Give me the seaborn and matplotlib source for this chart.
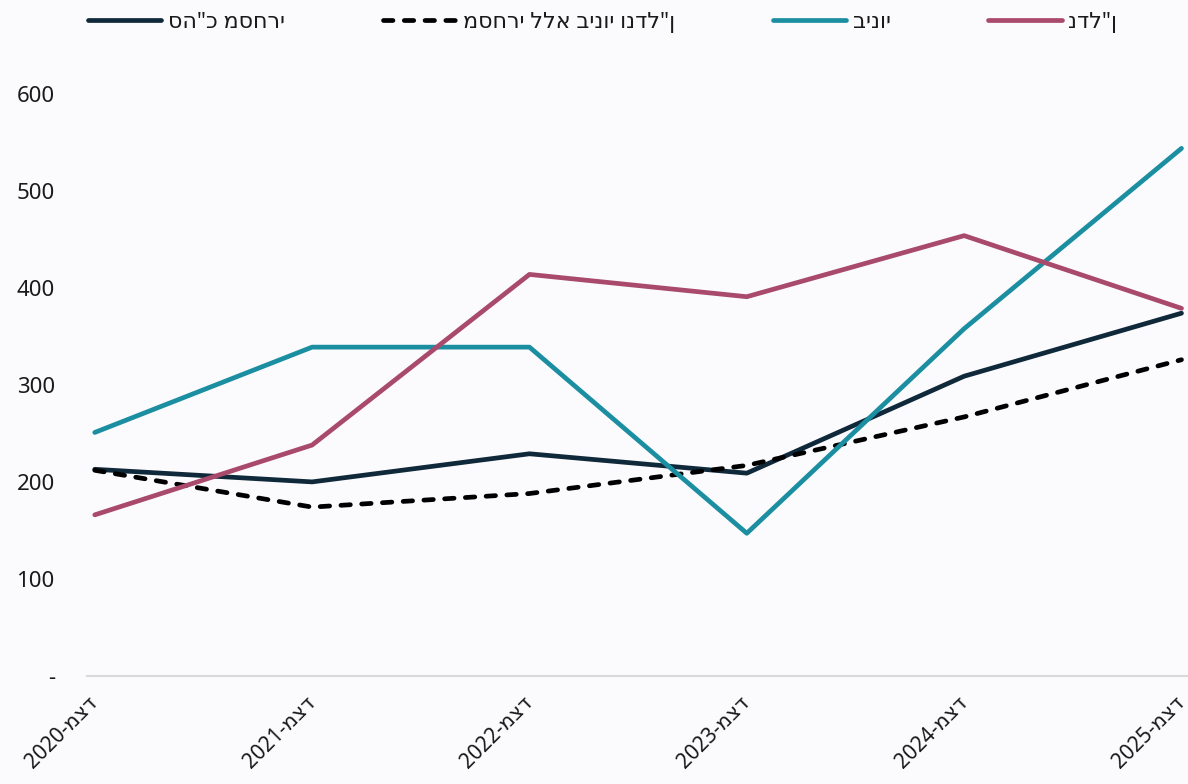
import pandas as pd
import matplotlib.pyplot as plt
import seaborn as sns

# values
months = ["2020-מצד", "2021-מצד", "2022-מצד", "2023-מצד", "2024-מצד", "2025-מצד"]
total_commercial = [213, 200, 229, 209, 309, 374]
excl_constr_realestate = [212, 174, 188, 217, 267, 326]
construction = [251, 339, 339, 147, 358, 544]
real_estate = [166, 238, 414, 391, 454, 379]

series_names = ['סה"כ מסחרי', 'מסחרי ללא בינוי ונדל"ן', 'בינוי', 'נדל"ן']
colors = ["#10293a", "#000000", "#1b8fa1", "#a94a6c"]
values = [total_commercial, excl_constr_realestate, construction, real_estate]

sns.set_style("white")
plt.rcParams['font.family'] = ['Noto Sans', 'DejaVu Sans']

bg = "#fbfbfd"
fig = plt.figure(figsize=(11.88, 7.84), dpi=100, facecolor=bg)
ax = fig.add_axes([0.073, 0.138, 0.927, 0.742], facecolor=bg)

x = list(range(len(months)))
for name, col, vals in zip(series_names, colors, values):
    df = pd.DataFrame({"x": x, "y": vals})
    dashed = "ללא" in name
    sns.lineplot(data=df, x="x", y="y", ax=ax, color=col, label=name,
                 linewidth=3.4, solid_capstyle="round",
                 dash_capstyle="round",
                 linestyle="--" if dashed else "-")
# custom dash pattern for the dashed series
for line in ax.get_lines():
    if line.get_label() == series_names[1]:
        line.set_dashes((2.0, 2.4))

ax.set_xlim(-0.037, 5.03)
ax.set_ylim(0, 600)
ax.set_yticks([0, 100, 200, 300, 400, 500, 600])
ax.set_yticklabels(["-", "100", "200", "300", "400", "500", "600"])
ax.set_xticks(x)
ax.set_xticklabels(months, rotation=45, ha="right", va="center",
                   rotation_mode="anchor")
ax.tick_params(axis="y", length=0, pad=23, labelsize=16, labelcolor="#1a1a1a")
ax.tick_params(axis="x", length=0, pad=17, labelsize=15, labelcolor="#1a1a1a")
ax.set_xlabel("")
ax.set_ylabel("")

for s in ["top", "right", "left"]:
    ax.spines[s].set_visible(False)
ax.spines["bottom"].set_color("#d9d9d9")
ax.spines["bottom"].set_linewidth(1.5)

leg = ax.legend(loc="upper left", bbox_to_anchor=(-0.017, 1.175), ncol=4,
                frameon=False, fontsize=16, handlelength=3.3,
                handletextpad=0.3, columnspacing=4.4)
for h in leg.get_lines():
    h.set_linewidth(3.4)
    h.set_solid_capstyle("round")
    h.set_dash_capstyle("round")
for t in leg.get_texts():
    t.set_color("#1a1a1a")

fig.savefig("out.png", dpi=100, facecolor=bg)
